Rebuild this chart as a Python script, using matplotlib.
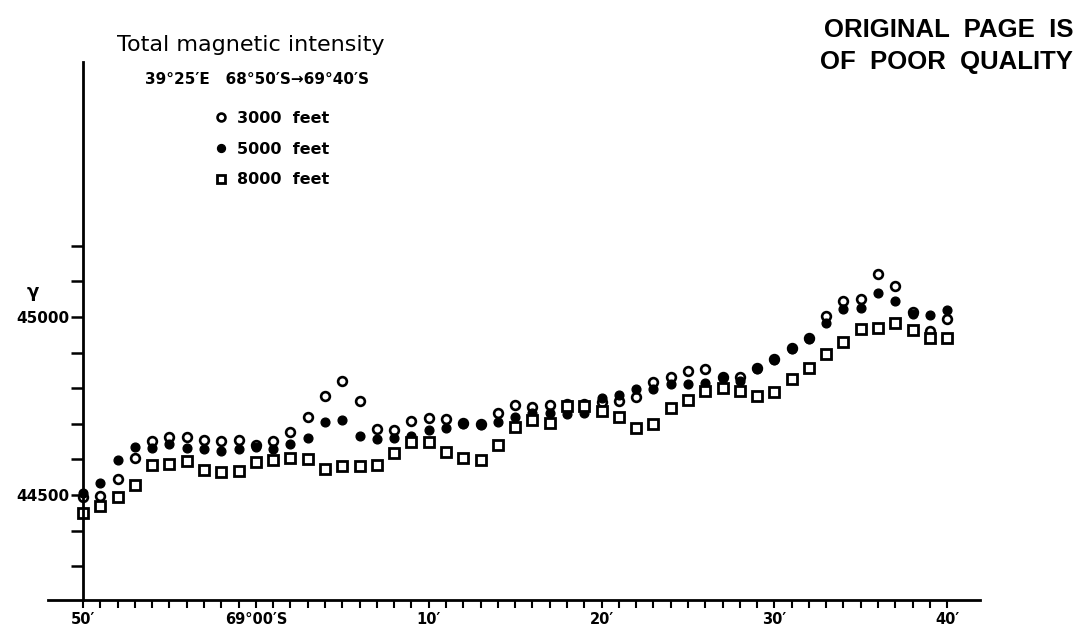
import numpy as np
import matplotlib.pyplot as plt

# minutes of latitude south of 68°50'S (0 = 68°50'S, 50 = 69°40'S)
minutes = list(range(51))
ft3000 = [44495, 44497, 44545, 44603, 44652, 44663, 44663, 44655, 44651, 44655,
          44640, 44652, 44676, 44720, 44778, 44820, 44764, 44685, 44683, 44708,
          44716, 44712, 44701, 44700, 44729, 44753, 44748, 44753, 44755, 44756,
          44760, 44764, 44776, 44818, 44831, 44848, 44853, 44832, 44832, 44856,
          44882, 44912, 44940, 45004, 45046, 45049, 45120, 45087, 45014, 44961,
          44993]
ft5000 = [44505, 44533, 44598, 44634, 44631, 44644, 44633, 44630, 44624, 44630,
          44634, 44628, 44644, 44661, 44705, 44710, 44665, 44656, 44661, 44667,
          44683, 44687, 44698, 44696, 44706, 44718, 44730, 44729, 44726, 44729,
          44771, 44781, 44798, 44798, 44811, 44813, 44815, 44828, 44821, 44853,
          44879, 44909, 44937, 44982, 45021, 45024, 45068, 45045, 45008, 45005,
          45019]
ft8000 = [44448, 44470, 44495, 44528, 44583, 44588, 44595, 44571, 44565, 44567,
          44593, 44598, 44604, 44600, 44574, 44582, 44580, 44584, 44618, 44649,
          44650, 44622, 44603, 44597, 44641, 44692, 44711, 44703, 44750, 44750,
          44735, 44718, 44688, 44699, 44743, 44766, 44793, 44800, 44793, 44778,
          44790, 44826, 44857, 44896, 44931, 44965, 44968, 44984, 44963, 44941,
          44942]

x_label_pos = [0, 10, 20, 30, 40, 50]
x_labels = ["50′", "69°00′S", "10′", "20′", "30′", "40′"]
y_tick_pos = [44300, 44400, 44500, 44600, 44700, 44800, 44900, 45000, 45100, 45200]
y_labels = ["", "", "44500", "", "", "", "", "45000", "", ""]

plt.rcParams['font.family'] = ['DejaVu Sans']

fig = plt.figure(figsize=(10.85, 6.34), dpi=100)
ax = fig.add_axes([48 / 1085, 34 / 634, 932 / 1085, 538 / 634])

ax.plot(minutes, ft3000, 'o', ms=6.3, mfc='white', mec='black', mew=1.9, label='3000  feet')
ax.plot(minutes, ft5000, 'o', ms=6.3, mfc='black', mec='black', label='5000  feet')
ax.plot(minutes, ft8000, 's', ms=6.5, mfc='white', mec='black', mew=2.0, label='8000  feet')

ax.set_xlim(-2.03, 51.9)
ax.set_ylim(44205, 45716)

ax.spines['top'].set_visible(False)
ax.spines['right'].set_visible(False)
ax.spines['left'].set_position(('data', 0))
ax.spines['left'].set_linewidth(2)
ax.spines['bottom'].set_linewidth(2)

ax.set_xticks(x_label_pos)
ax.set_xticklabels(x_labels, fontsize=10.5, fontweight='bold')
ax.set_xticks(np.arange(0, 51), minor=True)
ax.tick_params(axis='x', which='both', direction='out', length=6, width=1.5, pad=3)

ax.set_yticks(y_tick_pos)
ax.set_yticklabels(y_labels, fontsize=11, fontweight='bold')
ax.tick_params(axis='y', direction='out', length=9, width=1.8, pad=1)

fig.text(117 / 1085, 1 - 45 / 634, "Total magnetic intensity", fontsize=16,
         ha='left', va='center')
fig.text(145 / 1085, 1 - 79 / 634, "39°25′E   68°50′S→69°40′S", fontsize=11,
         fontweight='bold', ha='left', va='center')
fig.text(33 / 1085, 1 - 292 / 634, "γ", fontsize=13, fontweight='bold',
         ha='center', va='center')
fig.text(1073 / 1085, 1 - 30 / 634, "ORIGINAL  PAGE  IS", fontsize=18.5,
         fontweight='bold', family='Liberation Sans', ha='right', va='center')
fig.text(1073 / 1085, 1 - 62 / 634, "OF  POOR  QUALITY", fontsize=18.5,
         fontweight='bold', family='Liberation Sans', ha='right', va='center')

ax.legend(loc='upper left', bbox_to_anchor=(213 / 1085, 1 - 111 / 634),
          bbox_transform=fig.transFigure, frameon=False,
          prop={'weight': 'bold', 'size': 11.5}, handlelength=1, handletextpad=0.5,
          borderpad=0, borderaxespad=0, labelspacing=0.98, markerscale=0.9)

plt.savefig('out.png', dpi=100)
